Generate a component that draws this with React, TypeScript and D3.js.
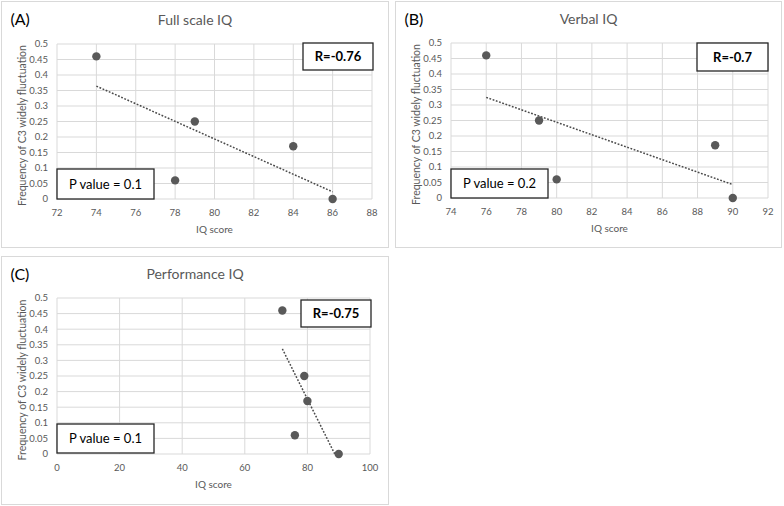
import React, { useRef, useEffect } from 'react'
import * as d3 from 'd3'

// values
const frequency = [0.46, 0.25, 0.17, 0.06, 0]
const fullScaleIQ = [74, 79, 84, 78, 86]
const verbalIQ = [76, 79, 89, 80, 90]
const performanceIQ = [72, 79, 80, 76, 90]

const yTicks = [0, 0.05, 0.1, 0.15, 0.2, 0.25, 0.3, 0.35, 0.4, 0.45, 0.5]
const xTicksFull = [72, 74, 76, 78, 80, 82, 84, 86, 88]
const xTicksVerbal = [74, 76, 78, 80, 82, 84, 86, 88, 90, 92]
const xTicksPerformance = [0, 20, 40, 60, 80, 100]

const panelLabels = ['(A)', '(B)', '(C)']
const titles = ['Full scale IQ', 'Verbal IQ', 'Performance IQ']
const rLabels = ['R=-0.76', 'R=-0.7', 'R=-0.75']
const pLabels = ['P value = 0.1', 'P value = 0.2', 'P value = 0.1']

const FONT = 'Lato, "Open Sans", sans-serif'
const GREY = '#595959'
const GRID = '#d9d9d9'

interface Layout {
  box: { x: number; y: number; w: number; h: number }
  plot: { l: number; r: number; t: number; b: number }
  rBox: { x: number; y: number; w: number; h: number }
  pBox: { x: number; y: number; w: number; h: number }
}

const layouts: Layout[] = [
  {
    box: { x: 1.5, y: 1.5, w: 387, h: 246 },
    plot: { l: 57, r: 372, t: 44, b: 199 },
    rBox: { x: 303, y: 43, w: 70, h: 27 },
    pBox: { x: 57, y: 169, w: 97, h: 30 },
  },
  {
    box: { x: 395.5, y: 1.5, w: 386, h: 246 },
    plot: { l: 451, r: 768, t: 43, b: 198 },
    rBox: { x: 697, y: 43, w: 71, h: 28 },
    pBox: { x: 451, y: 169, w: 97, h: 29 },
  },
  {
    box: { x: 1.5, y: 256.5, w: 387, h: 248 },
    plot: { l: 57, r: 370, t: 298, b: 454 },
    rBox: { x: 301, y: 300, w: 70, h: 27 },
    pBox: { x: 57, y: 424, w: 97, h: 29 },
  },
]

const xSeries = [fullScaleIQ, verbalIQ, performanceIQ]
const xTickSets = [xTicksFull, xTicksVerbal, xTicksPerformance]

const App: React.FC = () => {
  const svgRef = useRef<SVGSVGElement | null>(null)

  useEffect(() => {
    const svg = d3.select(svgRef.current)
    svg.selectAll('*').remove()

    layouts.forEach((lay, i) => {
      const g = svg.append('g')
      const xs = xSeries[i]
      const xt = xTickSets[i]
      const { box, plot } = lay

      // chart border
      g.append('rect')
        .attr('x', box.x).attr('y', box.y)
        .attr('width', box.w).attr('height', box.h)
        .attr('fill', 'white').attr('stroke', GRID)

      const x = d3.scaleLinear().domain([xt[0], xt[xt.length - 1]]).range([plot.l, plot.r])
      const y = d3.scaleLinear().domain([0, 0.5]).range([plot.b, plot.t])

      // gridlines
      g.append('g').selectAll('line').data(xt).enter().append('line')
        .attr('x1', (d) => x(d)).attr('x2', (d) => x(d))
        .attr('y1', plot.t).attr('y2', plot.b)
        .attr('stroke', GRID)
      g.append('g').selectAll('line').data(yTicks).enter().append('line')
        .attr('x1', plot.l).attr('x2', plot.r)
        .attr('y1', (d) => y(d)).attr('y2', (d) => y(d))
        .attr('stroke', GRID)

      // tick labels
      g.append('g').selectAll('text').data(yTicks).enter().append('text')
        .attr('x', plot.l - 9).attr('y', (d) => y(d)).attr('dy', '0.35em')
        .attr('text-anchor', 'end').attr('font-size', 9.5).attr('fill', GREY)
        .attr('font-family', FONT)
        .text((d) => d3.format('~g')(d))
      g.append('g').selectAll('text').data(xt).enter().append('text')
        .attr('x', (d) => x(d)).attr('y', plot.b + 17)
        .attr('text-anchor', 'middle').attr('font-size', 9.5).attr('fill', GREY)
        .attr('font-family', FONT)
        .text((d) => d)

      // axis titles
      g.append('text')
        .attr('x', (plot.l + plot.r) / 2).attr('y', plot.b + 34)
        .attr('text-anchor', 'middle').attr('font-size', 10).attr('fill', GREY)
        .attr('font-family', FONT)
        .text('IQ score')
      g.append('text')
        .attr('transform', `translate(${plot.l - 31},${(plot.t + plot.b) / 2 + 4}) rotate(-90)`)
        .attr('text-anchor', 'middle').attr('font-size', 10.5).attr('fill', GREY)
        .attr('font-family', FONT)
        .text('Frequency of C3 widely fluctuation')

      // chart title and panel letter
      g.append('text')
        .attr('x', box.x + box.w / 2).attr('y', plot.t - 19)
        .attr('text-anchor', 'middle').attr('font-size', 14).attr('fill', GREY)
        .attr('font-family', FONT)
        .text(titles[i])
      g.append('text')
        .attr('x', box.x + 9).attr('y', box.y + 23)
        .attr('font-size', 16).attr('fill', 'black')
        .attr('font-family', FONT)
        .text(panelLabels[i])

      // linear trendline, clipped to plot area
      const pts = xs.map((v, k) => [v, frequency[k]] as [number, number])
      const mx = d3.mean(xs) as number
      const my = d3.mean(frequency) as number
      const sxy = d3.sum(pts, (p) => (p[0] - mx) * (p[1] - my))
      const sxx = d3.sum(xs, (v) => (v - mx) * (v - mx))
      const slope = sxy / sxx
      const x0 = d3.min(xs) as number
      let x1 = d3.max(xs) as number
      const fit = (v: number) => my + slope * (v - mx)
      if (fit(x1) < 0) x1 = mx - my / slope
      g.append('line')
        .attr('x1', x(x0)).attr('y1', y(fit(x0)))
        .attr('x2', x(x1)).attr('y2', y(fit(x1)))
        .attr('stroke', '#4a4a4a').attr('stroke-width', 1.5)
        .attr('stroke-dasharray', '1.8,1.6')

      // points
      g.append('g').selectAll('circle').data(pts).enter().append('circle')
        .attr('cx', (d) => x(d[0])).attr('cy', (d) => y(d[1]))
        .attr('r', 4.2).attr('fill', GREY)

      // annotation boxes
      const r = lay.rBox
      g.append('rect').attr('x', r.x).attr('y', r.y).attr('width', r.w).attr('height', r.h)
        .attr('fill', 'white').attr('stroke', '#262626').attr('stroke-width', 1.3)
      g.append('text').attr('x', r.x + r.w / 2).attr('y', r.y + r.h / 2).attr('dy', '0.35em')
        .attr('text-anchor', 'middle').attr('font-size', 13).attr('font-weight', 'bold')
        .attr('font-family', FONT).attr('fill', 'black')
        .text(rLabels[i])
      const p = lay.pBox
      g.append('rect').attr('x', p.x).attr('y', p.y).attr('width', p.w).attr('height', p.h)
        .attr('fill', 'white').attr('stroke', '#262626').attr('stroke-width', 1.3)
      g.append('text').attr('x', p.x + p.w / 2).attr('y', p.y + p.h / 2).attr('dy', '0.35em')
        .attr('text-anchor', 'middle').attr('font-size', 13)
        .attr('font-family', FONT).attr('fill', 'black')
        .text(pLabels[i])
    })
  }, [])

  return (
    <svg
      ref={svgRef}
      width={784}
      height={506}
      style={{ position: 'absolute', left: 0, top: 0, background: 'white' }}
    ></svg>
  )
}

export default App
